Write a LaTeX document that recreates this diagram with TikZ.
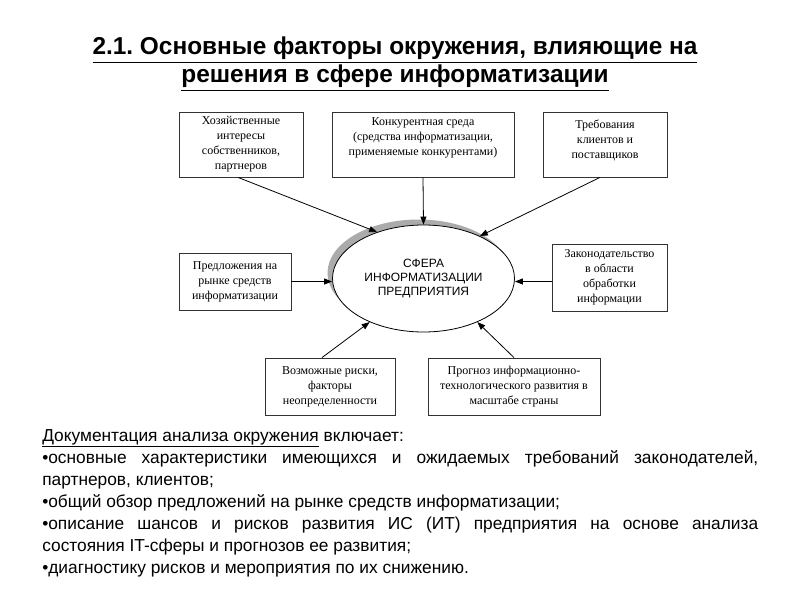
\documentclass[tikz,border=0pt]{standalone}
\usepackage{fontspec}
\setmainfont{Liberation Serif}
\setsansfont{Liberation Sans}
\usetikzlibrary{arrows.meta,shapes.geometric}
\frenchspacing
\begin{document}
\begin{tikzpicture}[x=0.75pt,y=-0.75pt,
  fbox/.style={draw=black!80, line width=0.6pt, inner sep=0pt, fill=white},
  btext/.style={align=center, font=\fontsize{9}{11.25}\selectfont, inner sep=0pt},
  arr/.style={-{Triangle[length=6pt,width=4.5pt]}, line width=0.6pt}
]
\useasboundingbox (0,0) rectangle (800,600);
% title
\node[font=\sffamily\bfseries\fontsize{18.3}{21}\selectfont, align=center] (title) at (395,64)
  {\underline{2.1. Основные факторы окружения, влияющие на}\\\underline{решения в сфере информатизации}};

% boxes
\node[fbox, minimum width=93pt, minimum height=48.75pt] (b1) at (241,144.5) {};
\node[btext] (t1) at (241,144.5) {Хозяйственные\\интересы\\собственников,\\партнеров};
\node[fbox, minimum width=136.5pt, minimum height=48.75pt] (b2) at (423,144.5) {};
\node[btext] (t2) at (423,138) {Конкурентная среда\\(средства информатизации,\\применяемые конкурентами)};
\node[fbox, minimum width=93pt, minimum height=48.75pt] (b3) at (605,144.5) {};
\node[btext] (t3) at (605,140) {Требования\\клиентов и\\поставщиков};
\node[fbox, minimum width=84pt, minimum height=42.75pt] (b4) at (235,281.5) {};
\node[btext] (t4) at (235,281.5) {Предложения на\\рынке средств\\информатизации};
\node[fbox, minimum width=86.25pt, minimum height=50.25pt] (b5) at (609.5,277.5) {};
\node[btext] (t5) at (609.5,277.5) {Законодательство\\в области\\обработки\\информации};
\node[fbox, minimum width=97.5pt, minimum height=42.75pt] (b6) at (330,386.5) {};
\node[btext] (t6) at (330,386.5) {Возможные риски,\\факторы\\неопределенности};
\node[fbox, minimum width=129pt, minimum height=42.75pt] (b7) at (514,386.5) {};
\node[btext] (t7) at (514,386.5) {Прогноз информационно-\\технологического развития в\\масштабе страны};

% ellipse with shadow
\fill[black!33] (418.5,273) ellipse [x radius=91, y radius=53.5];
\node[draw=black, fill=white, ellipse, line width=0.6pt, minimum width=136.5pt, minimum height=80.25pt, inner sep=0pt] (e) at (423.5,278.5) {};
\node[align=center, font=\sffamily\fontsize{9}{10.5}\selectfont, inner sep=0pt] (et) at (423.5,279)
  {СФЕРА\\ИНФОРМАТИЗАЦИИ\\ПРЕДПРИЯТИЯ};

% arrows
\draw[arr] ([xshift=-2.25pt]b1.south) -- (e.135);
\draw[arr] (b2.south) -- (e.north);
\draw[arr] ([xshift=-3.75pt]b3.south) -- (e.37);
\draw[arr] (b4.east) -- (b4.east -| e.west);
\draw[arr] ([yshift=-3pt]b5.west) -- ([yshift=-3pt]b5.west -| e.east);
\draw[arr] ([xshift=-6pt]b6.north) -- (e.219);
\draw[arr] (b7.north) -- (e.321);

% body text
\node[anchor=north west, inner sep=0pt, text width=537pt, align=justify,
      font=\sffamily\fontsize{13}{16.5}\selectfont] (body) at (42,429)
{\setlength{\parindent}{0pt}%
\underline{Документация анализа окружения} включает:\par
•основные характеристики имеющихся и ожидаемых требований законодателей, партнеров, клиентов;\par
•общий обзор предложений на рынке средств информатизации;\par
•описание шансов и рисков развития ИС (ИТ) предприятия на основе анализа\linebreak состояния IT-сферы и прогнозов ее развития;\par
•диагностику рисков и мероприятия по их снижению.};
\end{tikzpicture}
\end{document}
